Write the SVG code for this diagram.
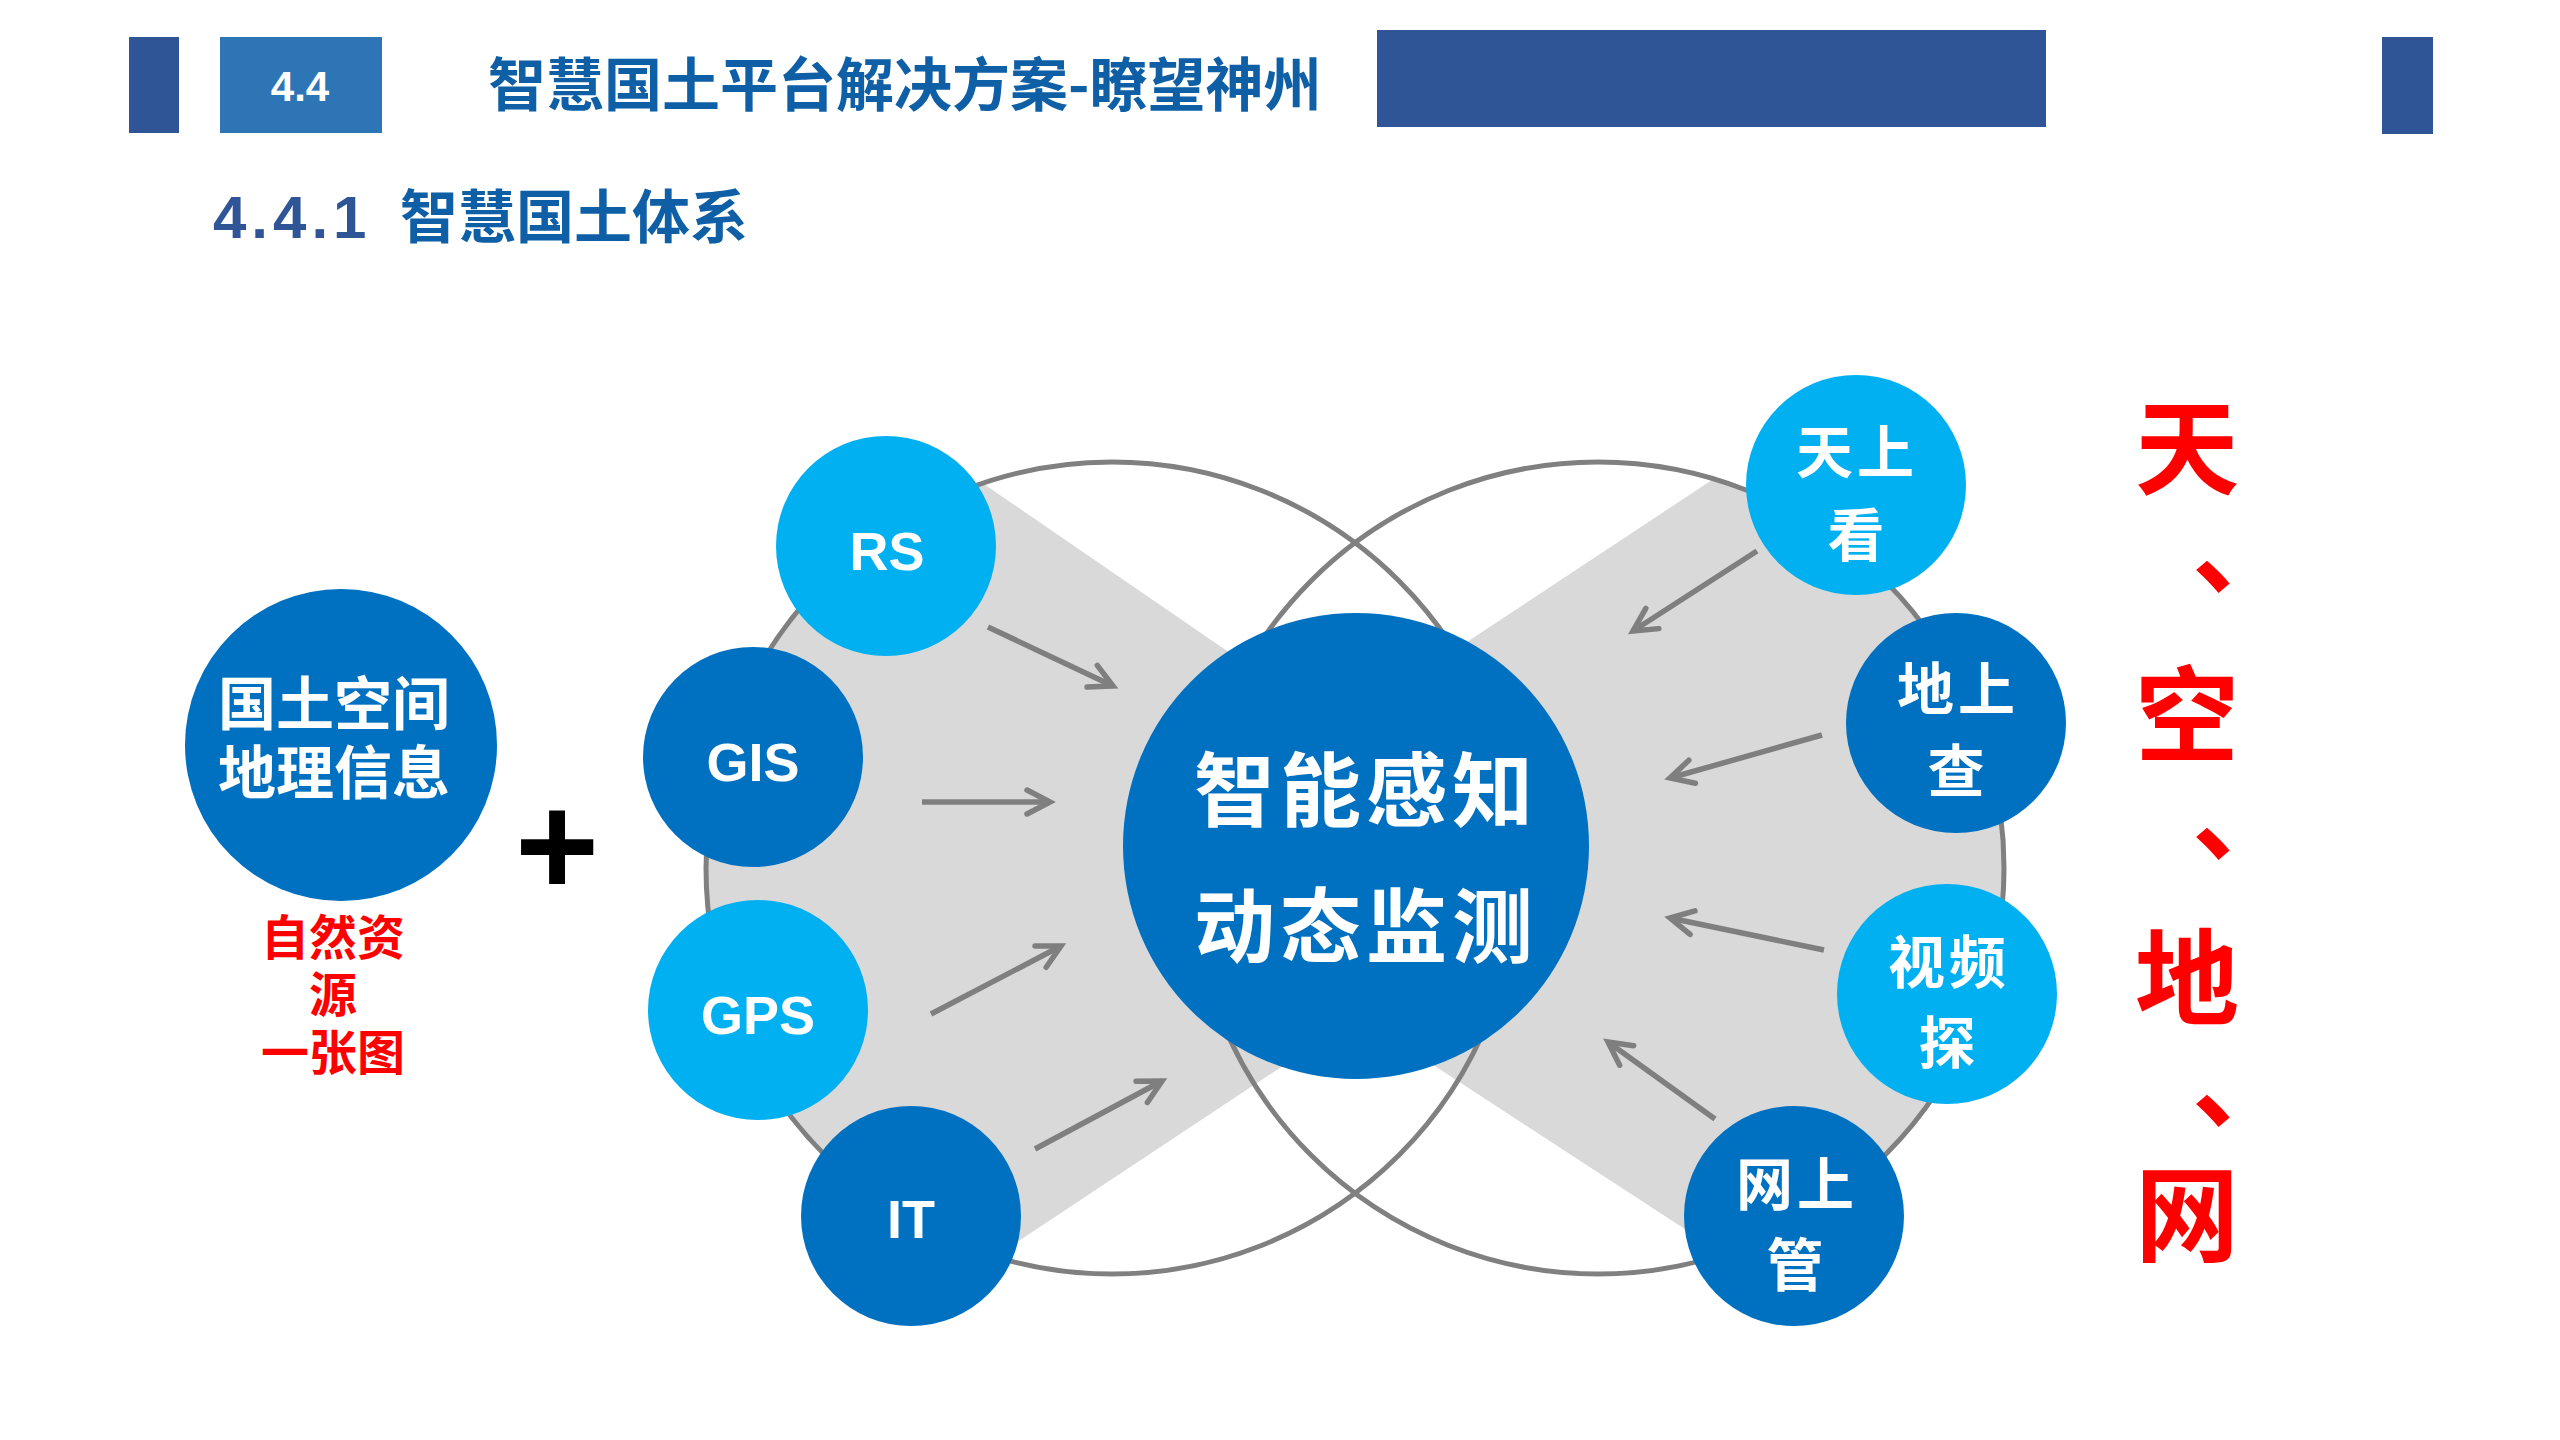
<svg xmlns="http://www.w3.org/2000/svg" width="2560" height="1440" viewBox="0 0 2560 1440">
<defs>
<style>
.cjk { font-family: "Noto Sans CJK SC", "Noto Sans CJK TC", sans-serif; font-weight: 700; }
.lat { font-family: "Liberation Sans", Arial, sans-serif; font-weight: 700; }
.w { fill: #FFFFFF; }
.dark { fill: #0070C0; }
.light { fill: #00B0F0; }
.ring { fill: none; stroke: #808080; stroke-width: 5; }
.wedge { fill: #D9D9D9; }
.arrow { stroke: #7F7F7F; stroke-width: 5.5; fill: none; marker-end: url(#ah); }
.red { fill: #FF0000; }
.bar { fill: #2F5597; }
</style>
<marker id="ah" markerUnits="userSpaceOnUse" viewBox="-32 -16 40 32" refX="0" refY="0" markerWidth="40" markerHeight="32" orient="auto" overflow="visible">
<path d="M-23,-12 L0,0 L-23,12" fill="none" stroke="#7F7F7F" stroke-width="5.5" stroke-linecap="round" stroke-linejoin="miter"/>
</marker>
<clipPath id="clipL"><circle cx="1112" cy="868" r="406"/></clipPath>
<clipPath id="clipR"><circle cx="1598" cy="868" r="406"/></clipPath>
</defs>
<rect x="0" y="0" width="2560" height="1440" fill="#FFFFFF"/>

<g id="header">
<rect class="bar" x="129" y="37" width="50" height="96"/>
<rect x="220" y="37" width="162" height="96" fill="#2E75B6"/>
<text class="lat w" x="300" y="101" font-size="42" text-anchor="middle">4.4</text>
<text class="cjk" x="488" y="106" font-size="58" fill="#0F5FA6">智慧国土平台解决方案-瞭望神州</text>
<rect class="bar" x="1377" y="30" width="669" height="97"/>
<rect class="bar" x="2382" y="37" width="51" height="97"/>
</g>

<g id="subtitle">
<text x="213" y="238"><tspan class="lat" font-size="60" fill="#2F5597" letter-spacing="5">4.4.1</tspan><tspan class="cjk" x="400" font-size="58" fill="#0F5FA6">智慧国土体系</tspan></text>
</g>

<g id="background">
<polygon class="wedge" clip-path="url(#clipL)" points="1562,881 700,289 700,1452"/>
<polygon class="wedge" clip-path="url(#clipR)" points="1128,866 2010,283 2010,1441"/>
<circle class="ring" cx="1112" cy="868" r="406"/>
<circle class="ring" cx="1598" cy="868" r="406"/>
</g>

<g id="connectors">
<line class="arrow" x1="988" y1="627" x2="1113" y2="686"/>
<line class="arrow" x1="922" y1="802" x2="1050" y2="802"/>
<line class="arrow" x1="931" y1="1014" x2="1061" y2="946"/>
<line class="arrow" x1="1035" y1="1149" x2="1162" y2="1081"/>
<line class="arrow" x1="1757" y1="551" x2="1633" y2="631"/>
<line class="arrow" x1="1822" y1="735" x2="1670" y2="778"/>
<line class="arrow" x1="1824" y1="950" x2="1670" y2="918"/>
<line class="arrow" x1="1715" y1="1119" x2="1608" y2="1042"/>
</g>

<g id="node-geo">
<circle class="dark" cx="341" cy="745" r="156"/>
<text class="cjk w" font-size="58" text-anchor="middle"><tspan x="334" y="725">国土空间</tspan><tspan x="334" y="794">地理信息</tspan></text>
</g>
<g id="label-onemap">
<text class="cjk red" font-size="48" text-anchor="middle"><tspan x="333" y="955">自然资</tspan><tspan x="333" y="1012">源</tspan><tspan x="333" y="1070">一张图</tspan></text>
</g>
<g id="plus">
<text class="lat" x="557" y="895" font-size="144" text-anchor="middle" fill="#000000">+</text>
</g>

<g id="node-rs">
<circle class="light" cx="886" cy="546" r="110"/>
<text class="lat w" x="887" y="570" font-size="54" text-anchor="middle">RS</text>
</g>
<g id="node-gis">
<circle class="dark" cx="753" cy="757" r="110"/>
<text class="lat w" x="753" y="781" font-size="54" text-anchor="middle">GIS</text>
</g>
<g id="node-gps">
<circle class="light" cx="758" cy="1010" r="110"/>
<text class="lat w" x="758" y="1034" font-size="54" text-anchor="middle">GPS</text>
</g>
<g id="node-it">
<circle class="dark" cx="911" cy="1216" r="110"/>
<text class="lat w" x="911" y="1238" font-size="54" text-anchor="middle">IT</text>
</g>

<g id="node-center">
<circle class="dark" cx="1356" cy="846" r="233"/>
<text class="cjk w" font-size="81" letter-spacing="5" text-anchor="middle"><tspan x="1366" y="820">智能感知</tspan><tspan x="1366" y="956">动态监测</tspan></text>
</g>

<g id="node-sky">
<circle class="light" cx="1856" cy="485" r="110"/>
<text class="cjk w" font-size="57" text-anchor="middle"><tspan x="1857" y="473" letter-spacing="4">天上</tspan><tspan x="1856" y="556">看</tspan></text>
</g>
<g id="node-ground">
<circle class="dark" cx="1956" cy="723" r="110"/>
<text class="cjk w" font-size="57" text-anchor="middle"><tspan x="1958" y="710" letter-spacing="4">地上</tspan><tspan x="1956" y="792">查</tspan></text>
</g>
<g id="node-video">
<circle class="light" cx="1947" cy="994" r="110"/>
<text class="cjk w" font-size="57" text-anchor="middle"><tspan x="1949" y="983" letter-spacing="4">视频</tspan><tspan x="1947" y="1064">探</tspan></text>
</g>
<g id="node-net">
<circle class="dark" cx="1794" cy="1216" r="110"/>
<text class="cjk w" font-size="57" text-anchor="middle"><tspan x="1797" y="1205" letter-spacing="4">网上</tspan><tspan x="1795" y="1286">管</tspan></text>
</g>

<g id="label-tiankongdiwang">
<text class="cjk red" font-size="104"><tspan x="2135" y="487">天</tspan><tspan x="2192" y="586">、</tspan><tspan x="2135" y="754">空</tspan><tspan x="2192" y="853">、</tspan><tspan x="2135" y="1017">地</tspan><tspan x="2192" y="1120">、</tspan><tspan x="2135" y="1254">网</tspan></text>
</g>
</svg>
